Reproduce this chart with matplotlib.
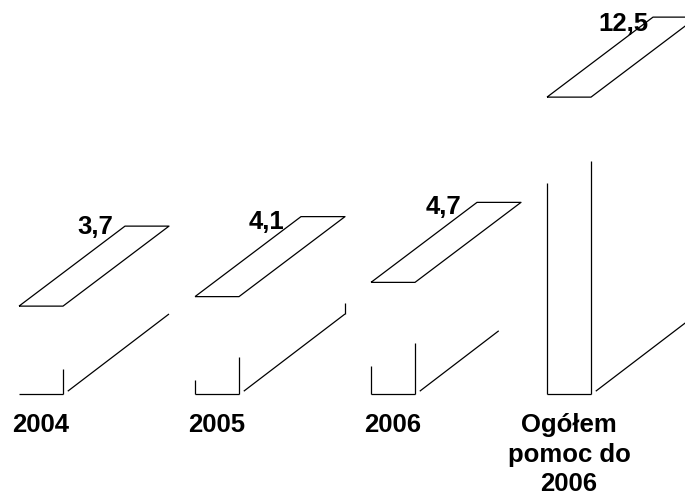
import matplotlib
matplotlib.use("Agg")
from matplotlib import pyplot as plt

# chart data
categories = ["2004", "2005", "2006", "Ogółem\npomoc do\n2006"]
values = [3.7, 4.1, 4.7, 12.5]
value_labels = ["3,7", "4,1", "4,7", "12,5"]

# visible parts of the broken bar outlines (value units / fractions of depth)
front_left_vis = [0.0, 0.59, 1.18, 8.88]
front_right_vis = [1.05, 1.56, 2.15, 9.81]
side_vis = [1.0, 1.0, 0.79, 1.0]
back_vis = [0.0, 0.46, 0.0, 0.0]

# label nudges in pixels (right, down)
label_nudge = [(1, 2), (-4, 7), (-3, 6), (8, 8)]

W, H = 685, 498
fig = plt.figure(figsize=(W / 100, H / 100), dpi=100)
ax = fig.add_axes([0, 0, 1, 1])
ax.set_axis_off()

px_x = 176.0   # pixels per category
px_y = 23.75   # pixels per value unit
x0 = -19 / px_x
y0 = -(H - 394) / px_y
ax.set_xlim(x0, x0 + W / px_x)
ax.set_ylim(y0, y0 + H / px_y)

bw = 44 / px_x      # bar width
dx = 106 / px_x     # depth offset x
dy = 80 / px_y      # depth offset y
kw = dict(color="black", lw=0.9, solid_capstyle="butt")
font = "Liberation Sans"

for i, v in enumerate(values):
    l, r = i, i + bw
    # top parallelogram
    ax.plot([l, r, r + dx, l + dx, l], [v, v, v + dy, v + dy, v], **kw)
    # front face bottom and partial verticals
    ax.plot([l, r], [0, 0], **kw)
    if front_left_vis[i] > 0:
        ax.plot([l, l], [0, front_left_vis[i]], **kw)
    ax.plot([r, r], [0, front_right_vis[i]], **kw)
    # side face bottom edge
    s0 = 0.035
    s1 = side_vis[i]
    ax.plot([r + dx * s0 + 0.006, r + dx * s1], [dy * s0, dy * s1], **kw)
    if back_vis[i] > 0:
        ax.plot([r + dx, r + dx], [dy, dy + back_vis[i]], **kw)
    # value label
    nx, ny = label_nudge[i]
    ax.text(l + dx + (nx - 13) / px_x, v + dy + 0.05 - ny / px_y, value_labels[i],
            ha="right", va="center", fontsize=18.5, fontweight="bold", family=font)
    # category label
    ax.text(i + bw / 2, -0.8, categories[i], ha="center", va="top",
            fontsize=18.5, fontweight="bold", family=font, linespacing=1.3)

fig.savefig("out.png", dpi=100)
